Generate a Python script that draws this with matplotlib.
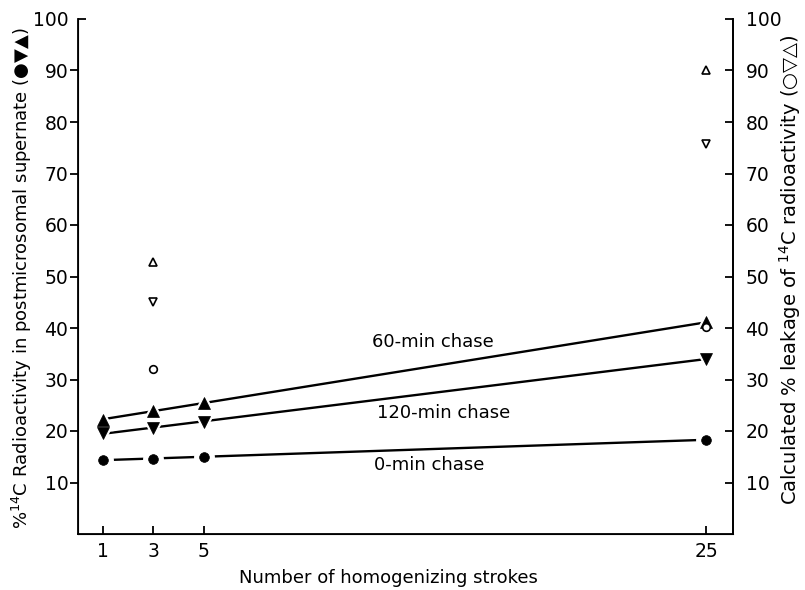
import numpy as np
import matplotlib
matplotlib.use("Agg")
import matplotlib.pyplot as plt

plt.rcParams['font.family'] = ['DejaVu Sans']

# Homogenizing strokes
strokes = [1, 3, 5, 25]

# % 14C radioactivity in postmicrosomal supernate (filled symbols)
chase_0 = [14.4, 14.6, 15.0, 18.3]
chase_60 = [22.2, 23.9, 25.5, 41.1]
chase_120 = [19.6, 20.6, 21.8, 34.0]

# Calculated % leakage of 14C radioactivity (open symbols)
leak_strokes = [3, 25]
leak_0 = [32.1, 40.1]
leak_60 = [52.9, 90.1]
leak_120 = [45.0, 75.7]

line_labels = ["0-min chase", "60-min chase", "120-min chase"]
y_ticks = [10, 20, 30, 40, 50, 60, 70, 80, 90]

fig = plt.figure(figsize=(8.05, 5.90), dpi=100)
ax = fig.add_axes([78 / 805, 56 / 590, (733 - 78) / 805, (534 - 19) / 590])
ax.set_xlim(0, 26.06)
ax.set_ylim(0, 100)

xs = np.array(strokes, dtype=float)
series = [(chase_0, 'o', 7.0), (chase_60, '^', 8.0), (chase_120, 'v', 8.0)]
xfit = np.array([1.0, 25.0])
for vals, mk, ms in series:
    k, b = np.polyfit(xs, np.array(vals), 1)
    ax.plot(xfit, k * xfit + b, color='black', lw=1.7, zorder=2,
            solid_capstyle='butt')
    ax.plot(xs, vals, linestyle='none', marker=mk, ms=ms + 7,
            color='white', mec='white', zorder=3)
    ax.plot(xs, vals, linestyle='none', marker=mk, ms=ms,
            color='black', mec='black', mew=0.5, zorder=4)

for vals, mk in [(leak_0, 'o'), (leak_60, '^'), (leak_120, 'v')]:
    ax.plot(leak_strokes, vals, linestyle='none', marker=mk, ms=5.5,
            mfc='white', mec='black', mew=1.2, zorder=5)

# Chase-time labels beside the fitted lines
ax.text(11.76, 13.4, line_labels[0], fontsize=13, ha='left', va='center')
ax.text(11.70, 37.2, line_labels[1], fontsize=13, ha='left', va='center')
ax.text(11.90, 23.5, line_labels[2], fontsize=13, ha='left', va='center')

# Axes styling
ax.spines['top'].set_visible(False)
for s in ['left', 'right', 'bottom']:
    ax.spines[s].set_linewidth(1.3)

ax.set_xticks(strokes)
ax.set_xticklabels([str(s) for s in strokes])
ax.tick_params(axis='x', direction='in', length=6, width=1.3, pad=6,
               labelsize=13.5)

ax.set_yticks(y_ticks)
ax.set_yticklabels([str(v) for v in y_ticks])
ax.set_yticks([100], labels=['100'], minor=True)
ax.tick_params(axis='y', which='major', direction='out', length=6,
               width=1.3, pad=1, labelsize=13.5)
ax.tick_params(axis='y', which='minor', direction='in', length=6,
               width=1.3, pad=7, labelsize=13.5)

ax2 = ax.twinx()
ax2.set_ylim(0, 100)
ax2.spines['top'].set_visible(False)
ax2.spines['right'].set_linewidth(1.3)
ax2.set_yticks(y_ticks + [100])
ax2.set_yticklabels([str(v) for v in y_ticks + [100]])
ax2.tick_params(axis='y', direction='in', length=6, width=1.3, pad=9,
                labelsize=13.5)

fig.text(22 / 805, 1 - 278 / 590,
         "%$^{14}$C Radioactivity in postmicrosomal supernate (\u25cf\u25bc\u25b2)",
         rotation=90, ha='center', va='center', fontsize=13)
fig.text(790 / 805, 1 - 270 / 590,
         "Calculated % leakage of $^{14}$C radioactivity (\u25cb\u25bd\u25b3)",
         rotation=90, ha='center', va='center', fontsize=14)
fig.text(388 / 805, 1 - 578 / 590, "Number of homogenizing strokes",
         ha='center', va='center', fontsize=13)

fig.savefig("out.png", dpi=100)
